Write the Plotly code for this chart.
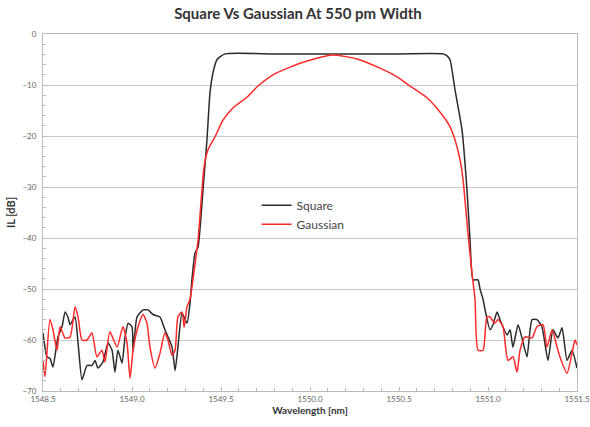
import plotly.graph_objects as go

square_x = [1548.50, 1548.522, 1548.539, 1548.556, 1548.584, 1548.607, 1548.624, 1548.640, 1548.652, 1548.680,
            1548.697, 1548.719, 1548.747, 1548.775, 1548.792, 1548.809, 1548.837, 1548.865, 1548.888, 1548.904,
            1548.921, 1548.944, 1548.961, 1548.978, 1549.000, 1549.006, 1549.028, 1549.062, 1549.090, 1549.118,
            1549.157, 1549.185, 1549.225, 1549.242, 1549.258, 1549.281, 1549.309, 1549.326, 1549.337, 1549.354,
            1549.371, 1549.399, 1549.421, 1549.438, 1549.455, 1549.478, 1549.522, 1549.800, 1550.100, 1550.500,
            1550.747, 1550.770, 1550.787, 1550.815, 1550.854, 1550.882, 1550.899, 1550.916, 1550.944, 1550.955,
            1550.972, 1550.983, 1551.011, 1551.028, 1551.051, 1551.067, 1551.107, 1551.124, 1551.140, 1551.169,
            1551.191, 1551.219, 1551.247, 1551.275, 1551.303, 1551.337, 1551.365, 1551.393, 1551.416, 1551.444,
            1551.472, 1551.500]
square_y = [-58.6, -63.3, -63.6, -65.3, -59.4, -57.4, -54.5, -55.5, -57.0, -55.5,
            -60.6, -67.8, -65.0, -65.0, -64.0, -65.5, -64.3, -60.6, -62.0, -66.3,
            -62.0, -64.5, -59.4, -56.7, -57.4, -62.3, -55.5, -54.1, -54.1, -55.0,
            -55.5, -58.0, -61.4, -66.0, -61.4, -54.7, -56.7, -52.8, -48.0, -43.0,
            -41.8, -30.6, -20.8, -11.6, -7.6, -5.0, -3.9, -3.9, -3.9, -3.9,
            -3.9, -4.3, -5.1, -11.0, -18.8, -30.6, -40.4, -48.2, -48.2, -50.0,
            -52.0, -54.0, -58.0, -57.0, -54.5, -56.0, -59.0, -58.0, -61.4, -57.0,
            -59.6, -63.3, -56.0, -56.0, -57.4, -64.0, -58.0, -59.6, -57.6, -64.0,
            -62.0, -65.5]

gauss_x = [1548.50, 1548.511, 1548.539, 1548.556, 1548.579, 1548.596, 1548.624, 1548.652, 1548.680, 1548.697,
           1548.719, 1548.747, 1548.775, 1548.803, 1548.831, 1548.848, 1548.876, 1548.916, 1548.949, 1548.972,
           1548.989, 1549.006, 1549.034, 1549.062, 1549.084, 1549.101, 1549.129, 1549.157, 1549.185, 1549.202,
           1549.225, 1549.242, 1549.258, 1549.281, 1549.293, 1549.309, 1549.326, 1549.343, 1549.371, 1549.393,
           1549.405, 1549.427, 1549.466, 1549.511, 1549.567, 1549.646, 1549.708, 1549.792, 1549.888, 1549.983,
           1550.124, 1550.264, 1550.393, 1550.489, 1550.562, 1550.657, 1550.730, 1550.787, 1550.815, 1550.843,
           1550.860, 1550.882, 1550.910, 1550.927, 1550.944,
           1550.972, 1550.994, 1551.011, 1551.039, 1551.056, 1551.084, 1551.112, 1551.140, 1551.163, 1551.180,
           1551.208, 1551.247, 1551.275, 1551.309, 1551.331, 1551.360, 1551.388, 1551.404, 1551.444, 1551.472,
           1551.489, 1551.500]
gauss_y = [-64.0, -67.2, -56.0, -58.0, -62.0, -57.4, -59.6, -59.4, -53.5, -55.5,
           -60.0, -60.0, -58.6, -63.3, -62.0, -64.3, -58.4, -61.4, -57.4, -60.6,
           -67.5, -62.0, -57.4, -55.0, -56.7, -61.4, -65.5, -62.6, -58.6, -60.0,
           -63.0, -62.0, -55.5, -54.5, -57.5, -53.5, -52.0, -48.0, -40.4, -30.6,
           -26.0, -22.7, -20.2, -16.9, -14.5, -12.4, -10.2, -8.0, -6.5, -5.3,
           -4.1, -4.9, -6.7, -8.4, -10.2, -12.5, -15.3, -18.2, -20.8, -24.7,
           -28.6, -37.0, -46.9, -52.0, -62.0,
           -62.0, -55.5, -55.5, -56.7, -56.0, -57.4, -64.0, -63.3, -66.3, -62.0,
           -59.4, -59.6, -57.4, -57.0, -61.4, -58.0, -61.4, -63.3, -66.5, -62.6,
           -60.0, -61.0]

x_ticks = [1548.5, 1549.0, 1549.5, 1550.0, 1550.5, 1551.0, 1551.5]
x_tick_labels = ["1548.5", "1549.0", "1549.5", "1550.0", "1550.5", "1551.0", "1551.5"]
y_ticks = [0, -10, -20, -30, -40, -50, -60, -70]

FONT = "Lato"

fig = go.Figure()
fig.add_trace(go.Scatter(x=square_x, y=square_y, mode="lines", name="Square",
                         line=dict(color="#2b2b2b", width=1.5, shape="spline", smoothing=0.5)))
fig.add_trace(go.Scatter(x=gauss_x, y=gauss_y, mode="lines", name="Gaussian",
                         line=dict(color="#ff2a2a", width=1.5, shape="spline", smoothing=0.6)))

fig.update_layout(
    width=590, height=427,
    margin=dict(l=43, r=13, t=34, b=36),
    paper_bgcolor="white", plot_bgcolor="white",
    font=dict(family=FONT, color="#555"),
    title=dict(text="<b>Square Vs Gaussian At 550 pm Width</b>", x=0.505, xanchor="center",
               y=0.967, yanchor="middle", font=dict(size=15, color="#333", family=FONT)),
    showlegend=True,
    legend=dict(x=0.40, y=0.561, xanchor="left", yanchor="top", bgcolor="rgba(0,0,0,0)",
                font=dict(size=12, color="#444", family=FONT), itemwidth=30,
                tracegroupgap=2),
)
fig.update_xaxes(range=[1548.5, 1551.5], tickvals=x_ticks, ticktext=x_tick_labels,
                 showgrid=False, zeroline=False, showline=True, linecolor="#bbb", mirror=True,
                 ticks="inside", ticklen=4, tickcolor="#bbb", automargin=False,
                 minor=dict(dtick=0.1, ticks="inside", ticklen=3, tickcolor="#bbb", showgrid=False),
                 tickfont=dict(size=8, color="#666"),
                 title=dict(text="<b>Wavelength [nm]</b>", font=dict(size=10, color="#333"), standoff=3))
fig.update_yaxes(range=[-70, 0], tickvals=y_ticks,
                 showgrid=True, gridcolor="#c8c8c8", gridwidth=1, zeroline=False,
                 showline=True, linecolor="#bbb", mirror=True,
                 ticks="inside", ticklen=4, tickcolor="#bbb", automargin=False,
                 minor=dict(dtick=2, ticks="inside", ticklen=3, tickcolor="#bbb", showgrid=False),
                 tickfont=dict(size=8, color="#666"), ticklabelstandoff=4,
                 title=dict(text="<b>IL [dB]</b>", font=dict(size=11, color="#333"), standoff=4))

fig.write_html("out.html", config={"displayModeBar": False, "responsive": False},
               post_script="document.body.style.margin='0';")
